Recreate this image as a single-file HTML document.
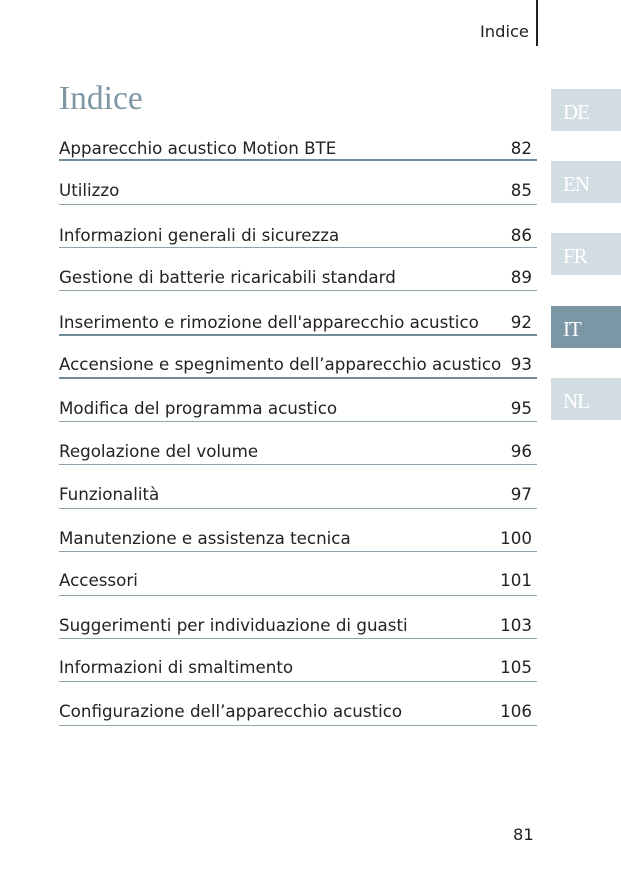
<!DOCTYPE html>
<html><head><meta charset="utf-8"><style>
body{margin:0;width:621px;height:875px;background:#fff;position:relative;font-family:"DejaVu Sans",sans-serif;color:#222;overflow:hidden}
.r{position:absolute;left:59px;width:473px;font-size:16.7px;line-height:18px;white-space:nowrap}
.r span{position:absolute;right:0;top:0}
.l{position:absolute;left:59px;width:478px;height:1px;background:#8fa3ae}
.l.t{height:2px;background:#6f8a98}
.tab{position:absolute;left:551px;width:70px;height:42px;background:#d2dde3;color:#fff;font-family:"Liberation Serif",serif;font-size:21px;padding-left:12px;box-sizing:border-box;line-height:46px;letter-spacing:-1px}
</style></head><body>
<div style="position:absolute;left:480px;top:22px;font-size:16.3px">Indice</div>
<div style="position:absolute;left:536px;top:0;width:2px;height:46px;background:#222"></div>
<div style="position:absolute;left:59px;top:80px;font-family:'Liberation Serif',serif;font-size:33.5px;color:#7f97a5">Indice</div>
<div class="tab" style="top:89px">DE</div>
<div class="tab" style="top:161px">EN</div>
<div class="tab" style="top:233px">FR</div>
<div class="tab" style="top:306px;background:#7b97a6">IT</div>
<div class="tab" style="top:378px">NL</div>

<div class="r" style="top:139px">Apparecchio acustico Motion BTE<span>82</span></div><div class="l t" style="top:159px"></div>
<div class="r" style="top:181px">Utilizzo<span>85</span></div><div class="l" style="top:204px"></div>
<div class="r" style="top:226px">Informazioni generali di sicurezza<span>86</span></div><div class="l" style="top:247px"></div>
<div class="r" style="top:268px">Gestione di batterie ricaricabili standard<span>89</span></div><div class="l" style="top:290px"></div>
<div class="r" style="top:313px">Inserimento e rimozione dell'apparecchio acustico<span>92</span></div><div class="l t" style="top:334px"></div>
<div class="r" style="top:355px">Accensione e spegnimento dell’apparecchio acustico<span>93</span></div><div class="l t" style="top:377px"></div>
<div class="r" style="top:399px">Modifica del programma acustico<span>95</span></div><div class="l" style="top:421px"></div>
<div class="r" style="top:442px">Regolazione del volume<span>96</span></div><div class="l" style="top:464px"></div>
<div class="r" style="top:485px">Funzionalità<span>97</span></div><div class="l" style="top:508px"></div>
<div class="r" style="top:529px">Manutenzione e assistenza tecnica<span>100</span></div><div class="l" style="top:551px"></div>
<div class="r" style="top:571px">Accessori<span>101</span></div><div class="l" style="top:595px"></div>
<div class="r" style="top:616px">Suggerimenti per individuazione di guasti<span>103</span></div><div class="l" style="top:638px"></div>
<div class="r" style="top:658px">Informazioni di smaltimento<span>105</span></div><div class="l" style="top:681px"></div>
<div class="r" style="top:702px">Configurazione dell’apparecchio acustico<span>106</span></div><div class="l" style="top:725px"></div>
<div style="position:absolute;left:513px;top:825px;font-size:16.3px">81</div>
</body></html>
